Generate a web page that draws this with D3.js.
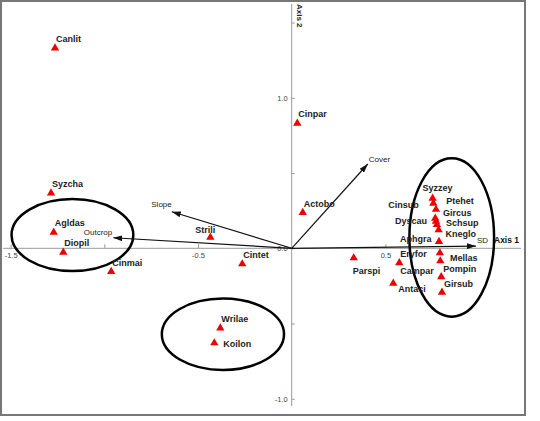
<!DOCTYPE html>
<html lang="en">
<head>
    <meta charset="utf-8">
    <title>Ordination biplot</title>
    <script src="https://d3js.org/d3.v7.min.js"></script>
    <style>
        body { margin: 0; background: #fff; }
        text { font-family: "Liberation Sans", Arial, sans-serif; }
    </style>
</head>
<body>
<svg id="g1"></svg>
<script>
    // species scores (axis 1, axis 2)
    let species = ["Canlit","Syzcha","Agldas","Diopil","Cinmai","Strili","Cintet","Wrilae","Koilon",
                   "Cinpar","Actobo","Parspi","Eryfor","Antaci","Syzzey","Ptehet","Gircus","Cinsub",
                   "Dyscau","Schsup","Kneglo","Aphgra","Mellas","Campar","Pompin","Girsub"];
    let axis1 = [-1.263,-1.284,-1.270,-1.219,-0.963,-0.434,-0.264,-0.381,-0.413,
                 0.030,0.059,0.331,0.574,0.542,0.752,0.756,0.770,0.766,
                 0.770,0.775,0.784,0.786,0.791,0.793,0.798,0.802];
    let axis2 = [1.331,0.367,0.106,-0.027,-0.155,0.073,-0.104,-0.530,-0.629,
                 0.831,0.237,-0.064,-0.096,-0.233,0.332,0.299,0.258,0.199,
                 0.179,0.158,0.122,0.044,-0.031,-0.084,-0.189,-0.292];

    // environmental vectors
    let envNames = ["Cover","Slope","Outcrop","SD"];
    let envAxis1 = [0.406,-0.640,-0.952,0.983];
    let envAxis2 = [0.560,0.243,0.070,0.015];

    // groups circled on the plot
    let groupCx = [-1.170,-0.367,0.854];
    let groupCy = [0.088,-0.571,0.072];
    let groupRx = [0.325,0.326,0.226];
    let groupRy = [0.239,0.237,0.526];

    let xTicks = [-1.5,-1.0,-0.5,0.5];
    let xTickLabels = [-1.5,-0.5,0.5];
    let yTicks = [1.5,1.0,0.5,0.0,-0.5,-1.0];
    let yTickLabels = [1.0,0.0,-1.0];

    // label placement nudges [dx, dy], default is just above-right
    let labelNudge = {
        Strili:[-15,-4], Koilon:[9,4], Parspi:[-1,16], Antaci:[5,9],
        Syzzey:[-10,-7], Ptehet:[13,1], Cinsub:[-47,-10], Gircus:[7,6.5],
        Dyscau:[-41,3], Schsup:[9,1.5], Kneglo:[7,7], Aphgra:[-39,0],
        Mellas:[10,8], Campar:[-40,13], Pompin:[2,-5], Girsub:[2,-5]
    };
    let envNudge = { Cover:[1,-2,"start"], Slope:[0,-5,"end"], Outcrop:[-1,-3,"end"], SD:[1,-3,"start"] };

    let width = 540, height = 421;
    let svg = d3.select("#g1").attr("width", width).attr("height", height);

    let x = d3.scaleLinear().domain([-1.5, 1.0]).range([10.6, 479.1]);
    let y = d3.scaleLinear().domain([-1.0, 1.0]).range([398.8, 97.8]);

    svg.append("rect").attr("width", width).attr("height", height).attr("fill", "#fff");
    svg.append("rect")
        .attr("x", 1).attr("y", 1).attr("width", 524).attr("height", 414)
        .attr("fill", "none").attr("stroke", "#777").attr("stroke-width", 2);

    // axis lines through the origin
    svg.append("line")
        .attr("x1", 3).attr("x2", 521).attr("y1", y(0)).attr("y2", y(0))
        .attr("stroke", "#999").attr("stroke-width", 1);
    svg.append("line")
        .attr("x1", x(0)).attr("x2", x(0)).attr("y1", 4).attr("y2", 406)
        .attr("stroke", "#999").attr("stroke-width", 1);

    let fmt = v => v.toFixed(1);
    let xAxis = svg.append("g")
        .attr("transform", `translate(0,${y(0)})`)
        .call(d3.axisBottom(x).tickValues(xTicks).tickSize(-4).tickPadding(4)
            .tickFormat(d => xTickLabels.includes(d) ? fmt(d) : ""));
    let yAxis = svg.append("g")
        .attr("transform", `translate(${x(0)},0)`)
        .call(d3.axisLeft(y).tickValues(yTicks).tickSize(-3).tickPadding(4)
            .tickFormat(d => yTickLabels.includes(d) ? fmt(d) : ""));
    [xAxis, yAxis].forEach(a => {
        a.select(".domain").remove();
        a.selectAll(".tick line").attr("stroke", "#999");
        a.selectAll(".tick text").attr("fill", "#444").style("font-size", "7.5px");
    });

    svg.append("text")
        .attr("x", 494).attr("y", 243)
        .style("font-size", "8.5px").style("font-weight", "bold").attr("fill", "#111")
        .text("Axis 1");
    svg.append("text")
        .attr("transform", "translate(297,4) rotate(90)")
        .style("font-size", "8px").style("font-weight", "bold").attr("fill", "#222")
        .text("Axis 2");

    // group ellipses
    svg.append("g").selectAll("ellipse")
        .data(groupCx)
        .join("ellipse")
            .attr("cx", d => x(d))
            .attr("cy", (d, i) => y(groupCy[i]))
            .attr("rx", (d, i) => x(d + groupRx[i]) - x(d))
            .attr("ry", (d, i) => y(groupCy[i] - groupRy[i]) - y(groupCy[i]))
            .attr("fill", "none").attr("stroke", "#000").attr("stroke-width", 2.5);

    // environmental arrows
    svg.append("defs").append("marker")
        .attr("id", "head")
        .attr("markerUnits", "userSpaceOnUse")
        .attr("viewBox", "0 -3 9 6")
        .attr("refX", 9).attr("refY", 0)
        .attr("markerWidth", 9).attr("markerHeight", 6)
        .attr("orient", "auto")
        .append("path").attr("d", "M0,-3L9,0L0,3Z").attr("fill", "#111");

    let env = svg.append("g");
    env.selectAll("line")
        .data(envNames)
        .join("line")
            .attr("x1", x(0)).attr("y1", y(0))
            .attr("x2", (d, i) => x(envAxis1[i]))
            .attr("y2", (d, i) => y(envAxis2[i]))
            .attr("stroke", "#111").attr("stroke-width", 1.2)
            .attr("marker-end", "url(#head)");
    env.selectAll("text")
        .data(envNames)
        .join("text")
            .attr("x", (d, i) => x(envAxis1[i]) + envNudge[d][0])
            .attr("y", (d, i) => y(envAxis2[i]) + envNudge[d][1])
            .attr("text-anchor", d => envNudge[d][2])
            .style("font-size", "8px").attr("fill", "#222")
            .text(d => d);

    // species points
    let tri = d3.symbol().type(d3.symbolTriangle).size(30);
    let pts = svg.append("g");
    pts.selectAll("path")
        .data(species)
        .join("path")
            .attr("transform", (d, i) => `translate(${x(axis1[i])},${y(axis2[i])})`)
            .attr("d", tri)
            .attr("fill", "#ee0000");
    pts.selectAll("text")
        .data(species)
        .join("text")
            .attr("x", (d, i) => x(axis1[i]) + (labelNudge[d] ? labelNudge[d][0] : 1))
            .attr("y", (d, i) => y(axis2[i]) + (labelNudge[d] ? labelNudge[d][1] : -6))
            .style("font-size", "9px").style("font-weight", "bold").attr("fill", "#222")
            .text(d => d);
</script>
</body>
</html>
